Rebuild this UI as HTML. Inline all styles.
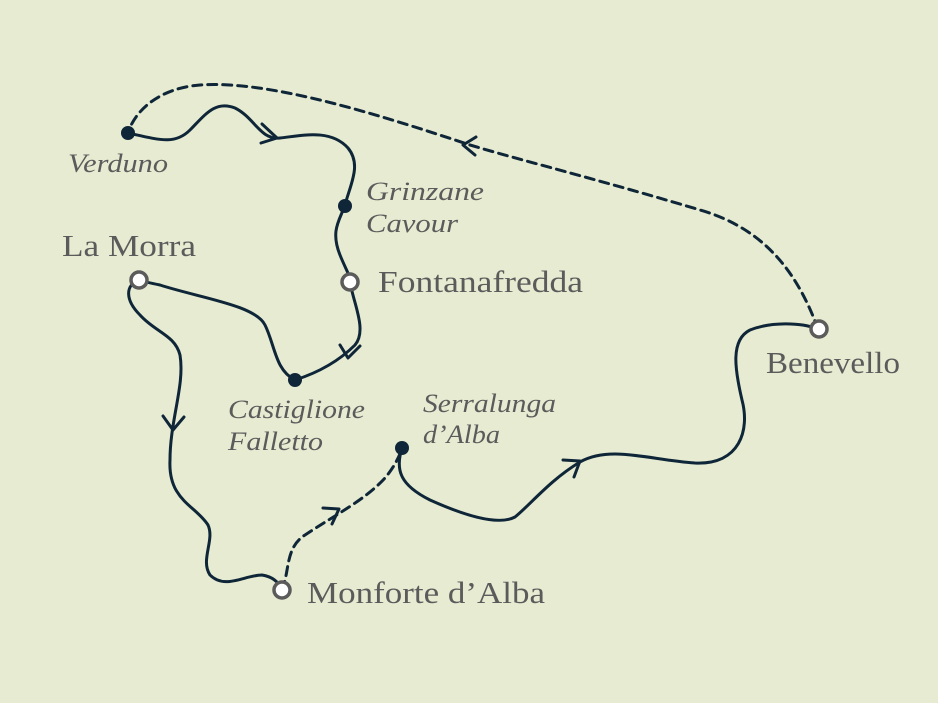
<!DOCTYPE html>
<html><head><meta charset="utf-8"><style>
html,body{margin:0;padding:0;background:#e6ebd1;}
svg{display:block}
text{font-family:"Liberation Serif",serif;fill:#5b5b5b}
.it{font-style:italic;font-size:26px}
.rg{font-size:31px}
</style></head><body>
<svg width="938" height="703" viewBox="0 0 938 703">
<rect width="938" height="703" fill="#e6ebd1"/>
<g fill="none" stroke="#0f2638" stroke-width="3" stroke-linecap="round" stroke-linejoin="round">
<path d="M818,329 C800,280 770,230 700,210 C600,180 520,160 470,145 C380,115 270,80 200,85 C160,88 135,110 128,133" stroke-dasharray="9,6"/>
<path d="M128,133 C160,140 175,145 190,130 C205,115 215,100 235,108 C255,118 260,140 280,138 C300,136 330,128 348,148 C362,165 350,185 345,205 C340,220 330,230 340,255 C346,270 350,275 350,281 C352,300 368,330 355,345 C340,360 320,372 295,380 C275,370 275,345 265,325 C255,305 200,298 160,285 C145,282 139,280 139,280 C125,285 125,300 140,315 C155,332 175,335 180,355 C185,385 170,420 170,460 C168,500 195,505 208,525 C215,540 200,560 210,575 C225,590 245,575 262,575 C275,577 280,585 282,590"/>
<path d="M282,590 C290,570 285,548 305,535 C335,515 365,500 385,478 C395,466 400,455 402,448" stroke-dasharray="9,6"/>
<path d="M402,448 C395,470 400,485 430,500 C470,518 500,525 515,517 C530,505 550,480 580,462 C610,445 650,460 695,463 C740,465 750,430 742,400 C735,370 730,340 750,330 C770,322 800,322 818,329"/>
<path d="M476,137 L463,145 L475,155"/>
<path d="M262,124 L277,138 L261,143"/>
<path d="M340,345 L348,358 L360,346"/>
<path d="M163,416 L173,430 L184,417"/>
<path d="M323,508 L339,509 L332,524"/>
<path d="M563,460 L580,461 L574,477"/>
</g>
<g fill="#0f2638">
<circle cx="128" cy="133" r="7"/><circle cx="345" cy="206" r="7"/><circle cx="295" cy="380" r="7"/><circle cx="402" cy="448" r="7"/>
</g>
<g fill="#fff" stroke="#5b5b5b" stroke-width="3.5">
<circle cx="139" cy="280" r="8"/><circle cx="350" cy="282" r="8"/><circle cx="282" cy="590" r="8"/><circle cx="819" cy="329" r="8"/>
</g>
<g>
<text class="it" x="68" y="172" textLength="100" lengthAdjust="spacingAndGlyphs">Verduno</text>
<text class="it" x="366" y="200" textLength="118" lengthAdjust="spacingAndGlyphs">Grinzane</text>
<text class="it" x="366" y="232" textLength="92" lengthAdjust="spacingAndGlyphs">Cavour</text>
<text class="rg" x="62" y="256" textLength="134" lengthAdjust="spacingAndGlyphs">La Morra</text>
<text class="rg" x="378" y="292" textLength="205" lengthAdjust="spacingAndGlyphs">Fontanafredda</text>
<text class="it" x="228" y="418" textLength="137" lengthAdjust="spacingAndGlyphs">Castiglione</text>
<text class="it" x="228" y="450" textLength="95" lengthAdjust="spacingAndGlyphs">Falletto</text>
<text class="it" x="423" y="412" textLength="133" lengthAdjust="spacingAndGlyphs">Serralunga</text>
<text class="it" x="423" y="443" textLength="77" lengthAdjust="spacingAndGlyphs">d’Alba</text>
<text class="rg" x="766" y="373" textLength="134" lengthAdjust="spacingAndGlyphs">Benevello</text>
<text class="rg" x="307" y="603" textLength="238" lengthAdjust="spacingAndGlyphs">Monforte d’Alba</text>
</g>
</svg>
</body></html>
